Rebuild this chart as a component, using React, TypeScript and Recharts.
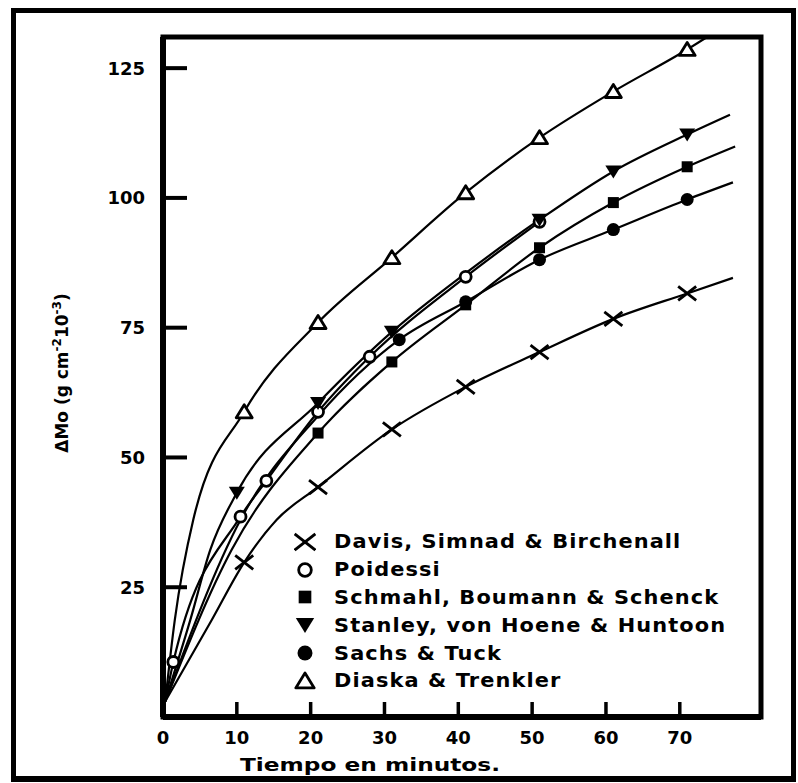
import React from 'react';
import { LineChart, Line, XAxis, YAxis, Legend, ReferenceArea } from 'recharts';

type Pt = { x: number; y: number; m: boolean };

// Time (min) / weight gain; m = marker drawn at that point
const davis: Pt[] = [
  { x: 0.3, y: 3, m: false }, { x: 6.6, y: 18.7, m: false }, { x: 11, y: 29.8, m: true },
  { x: 15.4, y: 38, m: false }, { x: 21, y: 44.3, m: true }, { x: 31, y: 55.4, m: true },
  { x: 41, y: 63.6, m: true }, { x: 51, y: 70.3, m: true }, { x: 61, y: 76.7, m: true },
  { x: 71, y: 81.6, m: true }, { x: 77.2, y: 84.6, m: false },
];
const poidessi: Pt[] = [
  { x: 0.3, y: 3, m: false }, { x: 1.4, y: 10.6, m: true }, { x: 10.5, y: 38.6, m: true },
  { x: 14, y: 45.5, m: true }, { x: 21, y: 58.8, m: true }, { x: 28, y: 69.4, m: true },
  { x: 41, y: 84.8, m: true }, { x: 51, y: 95.4, m: true },
];
const schmahl: Pt[] = [
  { x: 0.3, y: 3, m: false }, { x: 9.3, y: 32.2, m: false }, { x: 21, y: 54.7, m: true },
  { x: 31, y: 68.4, m: true }, { x: 41, y: 79.4, m: true }, { x: 51, y: 90.4, m: true },
  { x: 61, y: 99.1, m: true }, { x: 71, y: 106, m: true }, { x: 77.5, y: 109.9, m: false },
];
const stanley: Pt[] = [
  { x: 0.3, y: 3, m: false }, { x: 3.7, y: 18.7, m: false }, { x: 6.4, y: 32.2, m: false },
  { x: 10, y: 43.2, m: true }, { x: 21, y: 60.5, m: true }, { x: 31, y: 74.2, m: true },
  { x: 41, y: 85.5, m: false }, { x: 51, y: 95.8, m: true }, { x: 61, y: 105.1, m: true },
  { x: 71, y: 112.2, m: true }, { x: 76.8, y: 116, m: false },
];
const sachs: Pt[] = [
  { x: 0.3, y: 3, m: false }, { x: 10.5, y: 38, m: false }, { x: 21, y: 58, m: false },
  { x: 32, y: 72.7, m: true }, { x: 41, y: 80, m: true }, { x: 51, y: 88.1, m: true },
  { x: 61, y: 93.9, m: true }, { x: 71, y: 99.7, m: true }, { x: 77.2, y: 103, m: false },
];
const diaska: Pt[] = [
  { x: 0.3, y: 3, m: false }, { x: 1.6, y: 18.7, m: false }, { x: 4.1, y: 38, m: false },
  { x: 11, y: 58.8, m: true }, { x: 21, y: 76, m: true }, { x: 31, y: 88.5, m: true },
  { x: 41, y: 101, m: true }, { x: 51, y: 111.6, m: true }, { x: 61, y: 120.5, m: true },
  { x: 71, y: 128.6, m: true }, { x: 73.7, y: 131, m: false },
];

const seriesNames = [
  'Davis, Simnad & Birchenall',
  'Poidessi',
  'Schmahl, Boumann & Schenck',
  'Stanley, von Hoene & Huntoon',
  'Sachs & Tuck',
  'Diaska & Trenkler',
];
const seriesShapes = ['x', 'openCircle', 'square', 'invTriangle', 'circle', 'openTriangle'];
const seriesData = [davis, poidessi, schmahl, stanley, sachs, diaska];

const xTicks = [0, 10, 20, 30, 40, 50, 60, 70];
const yTicks = [25, 50, 75, 100, 125];
const xDomain: [number, number] = [0, 81];
const yDomain: [number, number] = [0, 131];
const xTitle = 'Tiempo en minutos.';

const FONT = '"DejaVu Sans", sans-serif';

function Marker({ shape, cx, cy, s = 1 }: { shape: string; cx: number; cy: number; s?: number }) {
  switch (shape) {
    case 'x':
      return (
        <g stroke="#000" strokeWidth={2.8}>
          <line x1={cx - 9 * s} y1={cy - 7 * s} x2={cx + 9 * s} y2={cy + 7 * s} />
          <line x1={cx - 9 * s} y1={cy + 7 * s} x2={cx + 9 * s} y2={cy - 7 * s} />
        </g>
      );
    case 'openCircle':
      return <circle cx={cx} cy={cy} r={5.5 * s} fill="#fff" stroke="#000" strokeWidth={2.8} />;
    case 'square':
      return <rect x={cx - 5.5 * s} y={cy - 5.5 * s} width={11 * s} height={11 * s} fill="#000" />;
    case 'invTriangle':
      return <path d={`M${cx - 8 * s},${cy - 6 * s}L${cx + 8 * s},${cy - 6 * s}L${cx},${cy + 7 * s}Z`} fill="#000" />;
    case 'circle':
      return <circle cx={cx} cy={cy} r={6.5 * s} fill="#000" />;
    case 'openTriangle':
      return (
        <path
          d={`M${cx},${cy - 7 * s}L${cx + 8 * s},${cy + 6 * s}L${cx - 8 * s},${cy + 6 * s}Z`}
          fill="#fff"
          stroke="#000"
          strokeWidth={2.8}
          strokeLinejoin="round"
        />
      );
    default:
      return <g />;
  }
}

const YTick = (props: any) => {
  const { x, y, payload } = props;
  return (
    <g>
      <line x1={x} y1={y} x2={x + 24} y2={y} stroke="#000" strokeWidth={4} />
      <text x={x - 18} y={y + 6.5} textAnchor="end" fontFamily={FONT} fontWeight="bold" fontSize={18} fill="#000">
        {payload.value}
      </text>
    </g>
  );
};

const XTick = (props: any) => {
  const { x, y, payload } = props;
  return (
    <g>
      {payload.value !== 0 && <line x1={x} y1={y} x2={x} y2={y - 15} stroke="#000" strokeWidth={3.5} />}
      <text x={x} y={y + 27} textAnchor="middle" fontFamily={FONT} fontWeight="bold" fontSize={18} fill="#000">
        {payload.value}
      </text>
    </g>
  );
};

const YLabel = (props: any) => {
  const vb = props.viewBox || { x: 0, y: 0, width: 0, height: 0 };
  const cx = 52;
  const cy = vb.y + vb.height / 2 - 4;
  return (
    <text
      transform={`translate(${cx},${cy}) rotate(-90)`}
      textAnchor="middle"
      fontFamily={FONT}
      fontWeight="bold"
      fontSize={17}
      fill="#000"
    >
      ΔMo (g cm<tspan dy={-7} fontSize={12}>-2</tspan>
      <tspan dy={7}>10</tspan>
      <tspan dy={-7} fontSize={12}>-3</tspan>
      <tspan dy={7}>)</tspan>
    </text>
  );
};

const XLabel = (props: any) => {
  const vb = props.viewBox || { x: 0, y: 0, width: 0, height: 0 };
  return (
    <text
      x={vb.x + 77}
      y={vb.y + 54}
      fontFamily={FONT}
      fontWeight="bold"
      fontSize={17}
      fill="#000"
      textLength={260}
      lengthAdjust="spacingAndGlyphs"
    >
      {xTitle}
    </text>
  );
};

const LegendContent = (props: any) => {
  const payload: any[] = props.payload || [];
  return (
    <div style={{ fontFamily: FONT, fontWeight: 'bold', fontSize: 19, color: '#000', lineHeight: 1 }}>
      {payload.map((p: any) => {
        const i = seriesNames.indexOf(p.value);
        return (
          <div key={p.value} style={{ display: 'flex', alignItems: 'center', height: 27.8 }}>
            <svg width={22} height={22} style={{ display: 'block' }}>
              <Marker shape={seriesShapes[i]} cx={11} cy={11} s={1.15} />
            </svg>
            <span
              style={{
                marginLeft: 18,
                display: 'inline-block',
                transform: 'scaleX(1.1)',
                transformOrigin: 'left center',
                letterSpacing: 1,
                whiteSpace: 'nowrap',
              }}
            >
              {p.value}
            </span>
          </div>
        );
      })}
    </div>
  );
};

export default function App() {
  return (
    <>
      <style>{'html,body{overflow:hidden;}'}</style>
      <div
        style={{
          position: 'absolute',
          left: 11,
          top: 8,
          width: 785,
          height: 774,
          boxSizing: 'border-box',
          borderStyle: 'solid',
          borderColor: '#000',
          borderWidth: '5px 5px 6px 5px',
          background: '#fff',
        }}
      >
        <LineChart width={775} height={763} margin={{ top: 24, right: 30, bottom: 0, left: 0 }}>
          <XAxis
            type="number"
            dataKey="x"
            domain={xDomain}
            ticks={xTicks}
            allowDataOverflow
            tickSize={0}
            tickMargin={0}
            tickLine={false}
            tick={<XTick />}
            axisLine={{ stroke: '#000', strokeWidth: 6 }}
            height={59}
            label={{ content: (p: any) => <XLabel {...p} /> }}
          />
          <YAxis
            type="number"
            dataKey="y"
            domain={yDomain}
            ticks={yTicks}
            allowDataOverflow
            tickSize={0}
            tickMargin={0}
            tickLine={false}
            tick={<YTick />}
            axisLine={{ stroke: '#000', strokeWidth: 6 }}
            width={147}
            label={{ content: (p: any) => <YLabel {...p} /> }}
          />
          <ReferenceArea
            x1={xDomain[0]}
            x2={xDomain[1]}
            y1={yDomain[0]}
            y2={yDomain[1]}
            fill="none"
            fillOpacity={0}
            stroke="#000"
            strokeWidth={5}
          />
          {seriesData.map((d, i) => (
            <Line
              key={seriesNames[i]}
              name={seriesNames[i]}
              data={d}
              dataKey="y"
              type="monotone"
              stroke="#000"
              strokeWidth={2.2}
              isAnimationActive={false}
              legendType="none"
              dot={(p: any) => (
                <g key={`${i}-${p.index}`}>
                  {p.payload && p.payload.m ? <Marker shape={seriesShapes[i]} cx={p.cx} cy={p.cy} /> : null}
                </g>
              )}
              activeDot={false}
            />
          ))}
          <Legend
            layout="vertical"
            align="center"
            verticalAlign="middle"
            content={() => <LegendContent payload={seriesNames.map((n) => ({ value: n }))} />}
            wrapperStyle={{ left: 278, top: 515, width: 470 }}
          />
        </LineChart>
      </div>
    </>
  );
}
